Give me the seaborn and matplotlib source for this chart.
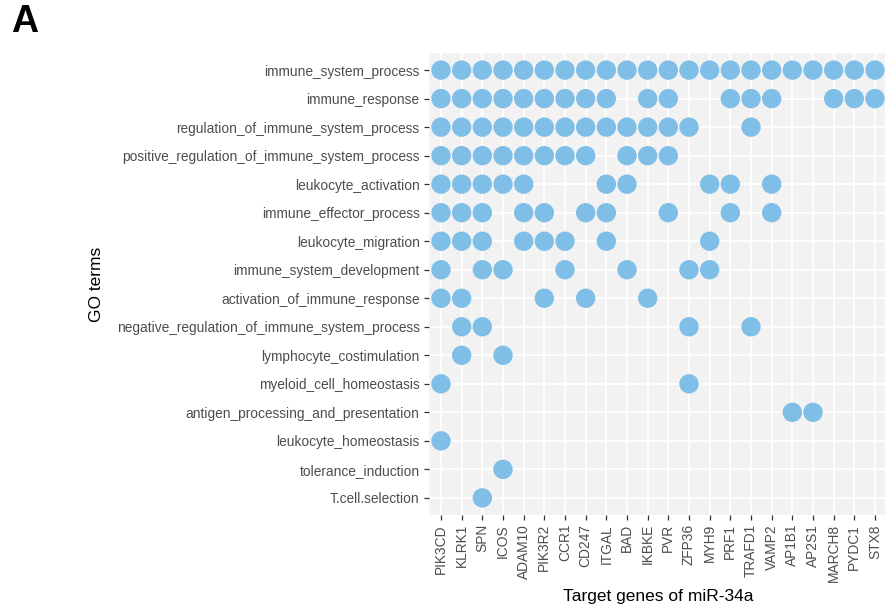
import matplotlib
matplotlib.use("Agg")
import matplotlib.pyplot as plt
import seaborn as sns
import pandas as pd

genes = ["PIK3CD", "KLRK1", "SPN", "ICOS", "ADAM10", "PIK3R2", "CCR1", "CD247",
         "ITGAL", "BAD", "IKBKE", "PVR", "ZFP36", "MYH9", "PRF1", "TRAFD1",
         "VAMP2", "AP1B1", "AP2S1", "MARCH8", "PYDC1", "STX8"]

terms = ["immune_system_process", "immune_response",
         "regulation_of_immune_system_process",
         "positive_regulation_of_immune_system_process",
         "leukocyte_activation", "immune_effector_process",
         "leukocyte_migration", "immune_system_development",
         "activation_of_immune_response",
         "negative_regulation_of_immune_system_process",
         "lymphocyte_costimulation", "myeloid_cell_homeostasis",
         "antigen_processing_and_presentation", "leukocyte_homeostasis",
         "tolerance_induction", "T.cell.selection"]

immune_system_process = genes[:]
immune_response = ["PIK3CD", "KLRK1", "SPN", "ICOS", "ADAM10", "PIK3R2", "CCR1", "CD247",
                   "ITGAL", "IKBKE", "PVR", "PRF1", "TRAFD1", "VAMP2", "MARCH8", "PYDC1", "STX8"]
regulation_of_immune_system_process = ["PIK3CD", "KLRK1", "SPN", "ICOS", "ADAM10", "PIK3R2", "CCR1",
                                       "CD247", "ITGAL", "BAD", "IKBKE", "PVR", "ZFP36", "TRAFD1"]
positive_regulation_of_immune_system_process = ["PIK3CD", "KLRK1", "SPN", "ICOS", "ADAM10", "PIK3R2",
                                                "CCR1", "CD247", "BAD", "IKBKE", "PVR"]
leukocyte_activation = ["PIK3CD", "KLRK1", "SPN", "ICOS", "ADAM10", "ITGAL", "BAD", "MYH9", "PRF1", "VAMP2"]
immune_effector_process = ["PIK3CD", "KLRK1", "SPN", "ADAM10", "PIK3R2", "CD247", "ITGAL", "PVR", "PRF1", "VAMP2"]
leukocyte_migration = ["PIK3CD", "KLRK1", "SPN", "ADAM10", "PIK3R2", "CCR1", "ITGAL", "MYH9"]
immune_system_development = ["PIK3CD", "SPN", "ICOS", "CCR1", "BAD", "ZFP36", "MYH9"]
activation_of_immune_response = ["PIK3CD", "KLRK1", "PIK3R2", "CD247", "IKBKE"]
negative_regulation_of_immune_system_process = ["KLRK1", "SPN", "ZFP36", "TRAFD1"]
lymphocyte_costimulation = ["KLRK1", "ICOS"]
myeloid_cell_homeostasis = ["PIK3CD", "ZFP36"]
antigen_processing_and_presentation = ["AP1B1", "AP2S1"]
leukocyte_homeostasis = ["PIK3CD"]
tolerance_induction = ["ICOS"]
T_cell_selection = ["SPN"]

members = [immune_system_process, immune_response, regulation_of_immune_system_process,
           positive_regulation_of_immune_system_process, leukocyte_activation,
           immune_effector_process, leukocyte_migration, immune_system_development,
           activation_of_immune_response, negative_regulation_of_immune_system_process,
           lymphocyte_costimulation, myeloid_cell_homeostasis,
           antigen_processing_and_presentation, leukocyte_homeostasis,
           tolerance_induction, T_cell_selection]

rows = []
for t, gl in zip(terms, members):
    for g in genes:
        if g in gl:
            rows.append({"gene": g, "term": t})
df = pd.DataFrame(rows)

sns.set_theme(style="darkgrid")
plt.rcParams["font.family"] = ["Liberation Sans", "DejaVu Sans"]

fig = plt.figure(figsize=(8.85, 6.06), dpi=100)
W, H = 885, 606
x0, x1 = 428.6, 887.4
y0, y1 = 53.0, 515.0
ax = fig.add_axes([x0 / W, 1 - y1 / H, (x1 - x0) / W, (y1 - y0) / H])
ax.set_facecolor("#F2F2F2")

sns.scatterplot(data=df, x="gene", y="term", ax=ax, s=195, color="#7FBFE7",
                edgecolor="none", linewidth=0, clip_on=False, zorder=3)

ax.set_xlim(-0.6, len(genes) - 1 + 0.6)
ax.set_ylim(len(terms) - 1 + 0.6, -0.6)
ax.grid(True, color="white", linewidth=1.3)
for s in ax.spines.values():
    s.set_visible(False)

ax.tick_params(axis="both", which="major", length=3.5, width=0.9, color="#333333",
               labelcolor="#4D4D4D", labelsize=9.9, pad=3, left=True, bottom=True)
ax.set_xticks(range(len(genes)))
ax.set_xticklabels(genes, rotation=90, va="top", ha="center")
ax.set_yticks(range(len(terms)))
ax.set_yticklabels(terms)

ax.set_xlabel("Target genes of miR-34a", fontsize=12.5, color="black", labelpad=5)
ax.set_ylabel("GO terms", fontsize=12.5, color="black", labelpad=9)

fig.text(11 / W, 1 - 4 / H, "A", fontsize=27, fontweight="bold", va="top", ha="left",
         color="black", family=["Liberation Sans", "DejaVu Sans"])

fig.savefig("out.png", dpi=100)
